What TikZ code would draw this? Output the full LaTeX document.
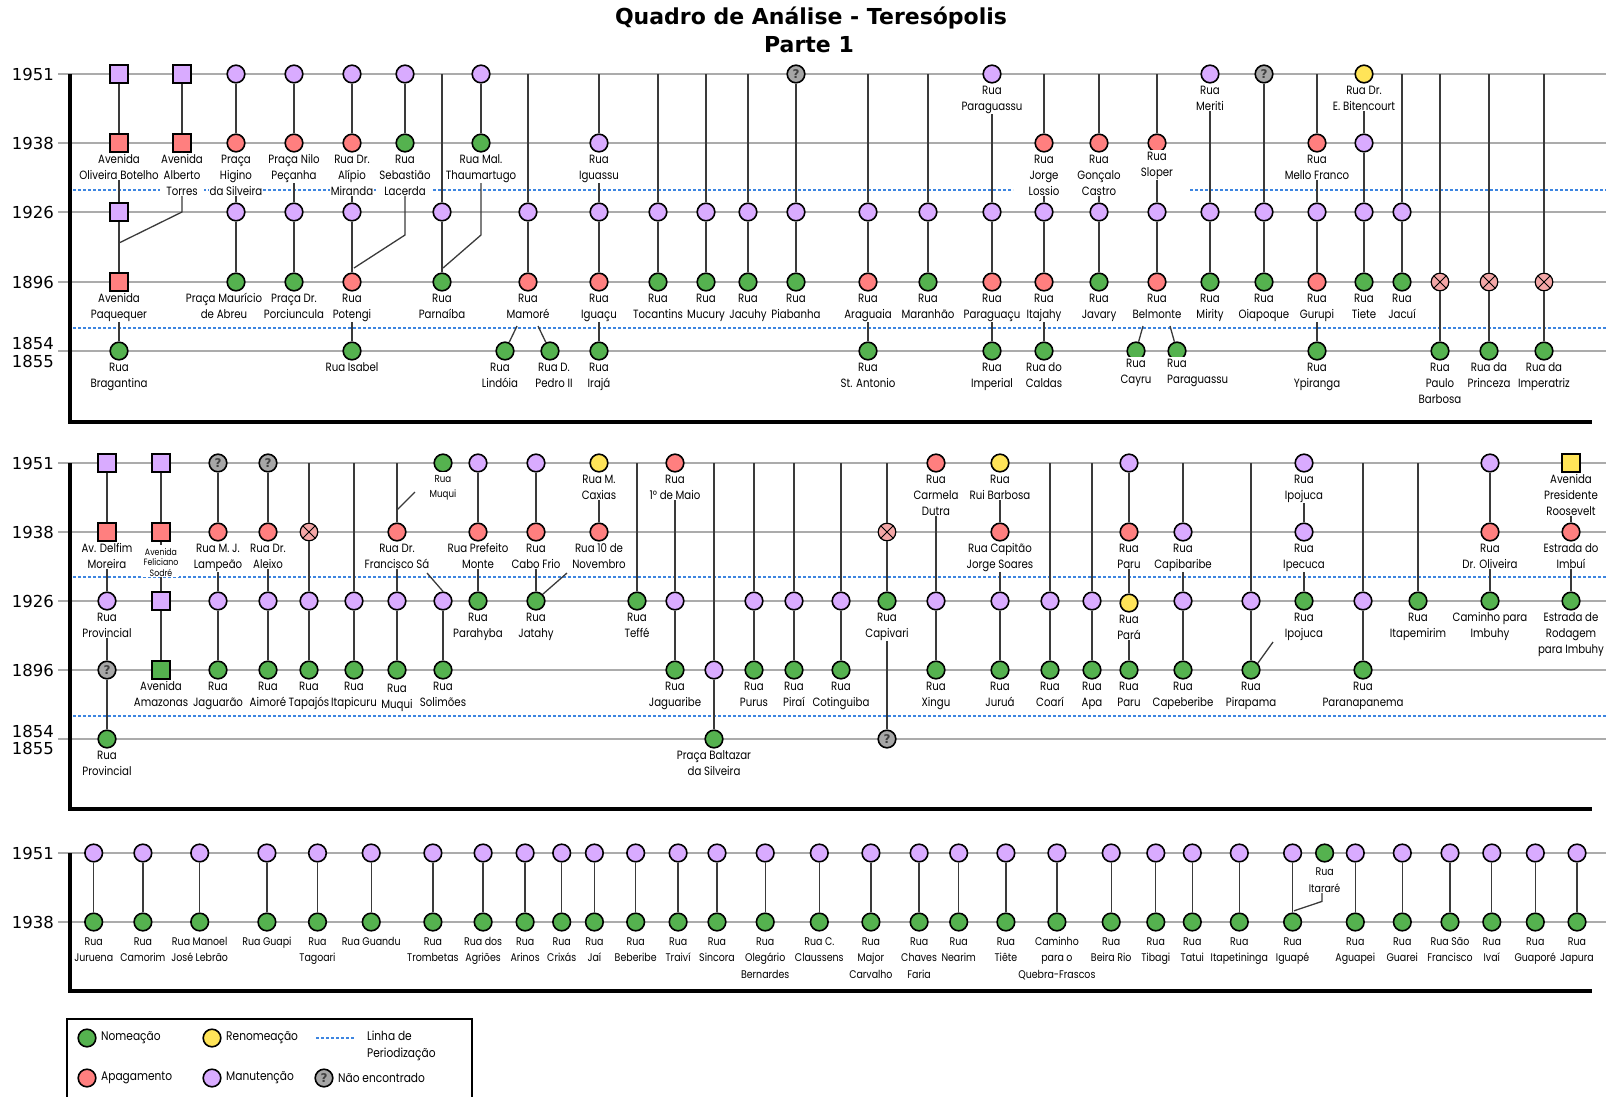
\documentclass[tikz,border=0pt]{standalone}
\usepackage{fontspec}
\newfontfamily\labf[FakeStretch=0.85]{Poppins}
\newfontfamily\yrf{DejaVu Sans}
\pgfdeclarelayer{front}
\pgfsetlayers{main,front}

\definecolor{cpur}{HTML}{D9ABFF}
\definecolor{cred}{HTML}{FF7F7F}
\definecolor{cgrn}{HTML}{55B24F}
\definecolor{cyel}{HTML}{FFE458}
\definecolor{cgry}{HTML}{A6A6A6}
\definecolor{cxpk}{HTML}{F4A6A6}
\definecolor{cdash}{HTML}{3D85E0}
\definecolor{cyear}{HTML}{ABABAB}
\definecolor{cconn}{HTML}{3A3A3A}

\tikzset{
  nbase/.style={draw=black, line width=1.6pt, inner sep=0pt, minimum size=17.6pt},
  circ/.style={nbase, circle},
  sqr/.style={nbase, rectangle},
  nP/.style={circ, fill=cpur},
  nR/.style={circ, fill=cred},
  nG/.style={circ, fill=cgrn},
  nY/.style={circ, fill=cyel},
  nQ/.style={circ, fill=cgry, label={[qmark]center:?}},
  nX/.style={circ, fill=cxpk, line width=1.2pt,
    path picture={\draw[line width=1pt]
      (path picture bounding box.north west) -- (path picture bounding box.south east)
      (path picture bounding box.north east) -- (path picture bounding box.south west);}},
  sP/.style={sqr, fill=cpur},
  sR/.style={sqr, fill=cred},
  sG/.style={sqr, fill=cgrn},
  sY/.style={sqr, fill=cyel},
  qmark/.style={font=\yrf\bfseries\fontsize{12}{12}\selectfont, text=black!75, inner sep=0pt},
  conn/.style={draw=cconn, line width=1.3pt},
  yline/.style={draw=cyear, line width=1.5pt},
  dline/.style={draw=cdash, line width=1.1pt, dash pattern=on 3pt off 2pt},
  axisln/.style={draw=black, line width=3.6pt},
  lbl/.style={anchor=north, fill=white, inner xsep=1pt, inner ysep=0.5pt, align=center,
    font=\labf\fontsize{12}{16}\selectfont},
  lbl3/.style={lbl, font=\labf\fontsize{11.1}{16.5}\selectfont},
  lbls/.style={lbl, font=\labf\fontsize{9.2}{10.5}\selectfont},
  lblm/.style={lbl, font=\labf\fontsize{10.2}{15}\selectfont},
  yr/.style={anchor=east, inner sep=0pt, font=\yrf\fontsize{16.5}{16.5}\selectfont},
  ttl/.style={inner sep=0pt, font=\yrf\bfseries\fontsize{22}{22}\selectfont},
  legt/.style={anchor=west, inner sep=0pt, font=\labf\fontsize{12.5}{16.8}\selectfont},
}

% strut that fixes the height of a label's first line
\newcommand\st{\rule{0pt}{10pt}}
% a marker: style, name, x, y
\newcommand\mk[4]{\node[#1] (#2) at (#3,#4) {};}
% a street label under a marker: [style] name, xshift, yshift, text
\newcommand\lb[5][lbl]{\begin{pgfonlayer}{front}\node[#1] (#2-l) at ([xshift=#3pt,yshift=#4pt]#2.center) {\st #5};\end{pgfonlayer}}
% marker with its label: [xshift] style, name, x, y, text
\newcommand\mkl[6][0]{\mk{#2}{#3}{#4}{#5}\lb{#3}{#1}{-9.5}{#6}}
% connector between two named points
\newcommand\sg[2]{\draw[conn] (#1) -- (#2);}

\begin{document}
\begin{tikzpicture}[x=1pt,y=-1pt]
\useasboundingbox (0,0) rectangle (1606,1096);

% ---------- title ----------
\node[ttl] (title1) at (811,18) {Quadro de Análise - Teresópolis};
\node[ttl] (title2) at (809,45) {Parte 1};

% ---------- grid: year lines, period lines, axes ----------
\foreach \y in {74,143,212,282,351,463,532,601,670,739,853,922}
  \draw[yline] (58,\y) -- (1606,\y);
\draw[dline] (73,190) -- (1013,190);
\draw[dline] (1190,190) -- (1606,190);
\draw[dline] (73,328) -- (1606,328);
\draw[dline] (73,577) -- (1606,577);
\draw[dline] (73,716) -- (1606,716);
\draw[axisln] (70,74) -- (70,422) -- (1592,422);
\draw[axisln] (70,463) -- (70,809) -- (1592,809);
\draw[axisln] (70,853) -- (70,991) -- (1592,991);

% year labels
\node[yr] (ya1) at (54,74) {1951};
\node[yr] (ya2) at (54,143) {1938};
\node[yr] (ya3) at (54,212) {1926};
\node[yr] (ya4) at (54,282) {1896};
\node[yr] (ya5) at (54,343.7) {1854};
\node[yr] (ya6) at (54,361) {1855};
\node[yr] (yb1) at (54,463) {1951};
\node[yr] (yb2) at (54,532) {1938};
\node[yr] (yb3) at (54,601) {1926};
\node[yr] (yb4) at (54,670) {1896};
\node[yr] (yb5) at (54,731.7) {1854};
\node[yr] (yb6) at (54,748.3) {1855};
\node[yr] (yc1) at (54,853) {1951};
\node[yr] (yc2) at (54,922) {1938};

% ================= PART 1, first block =================
\mk{sP}{c1a}{119}{74}
\mkl{sR}{c1b}{119}{143}{Avenida\\Oliveira Botelho}
\mk{sP}{c1c}{119}{212}
\mkl{sR}{c1d}{119}{282}{Avenida\\Paquequer}
\mkl{nG}{c1e}{119}{351}{Rua\\Bragantina}
\sg{c1a}{c1b}\sg{c1b}{c1c}\sg{c1c}{c1d}\sg{c1d}{c1e}

\mk{sP}{c2a}{182}{74}
\mkl{sR}{c2b}{182}{143}{Avenida\\Alberto\\Torres}
\coordinate (c2j) at (182,212);
\coordinate (c2k) at (119,243);
\sg{c2a}{c2b}
\draw[conn] (c2b) -- (c2j) -- (c2k);

\mk{nP}{c3a}{236}{74}
\mkl{nR}{c3b}{236}{143}{Praça\\Higino\\da Silveira}
\mk{nP}{c3c}{236}{212}
\mkl[-12]{nG}{c3d}{236}{282}{Praça Maurício\\de Abreu}
\sg{c3a}{c3b}\sg{c3b}{c3c}\sg{c3c}{c3d}

\mk{nP}{c4a}{294}{74}
\mkl{nR}{c4b}{294}{143}{Praça Nilo\\Peçanha}
\mk{nP}{c4c}{294}{212}
\mkl{nG}{c4d}{294}{282}{Praça Dr.\\Porciuncula}
\sg{c4a}{c4b}\sg{c4b}{c4c}\sg{c4c}{c4d}

\mk{nP}{c5a}{352}{74}
\mkl{nR}{c5b}{352}{143}{Rua Dr.\\Alípio\\Miranda}
\mk{nP}{c5c}{352}{212}
\mkl{nR}{c5d}{352}{282}{Rua\\Potengi}
\mkl{nG}{c5e}{352}{351}{Rua Isabel}
\sg{c5a}{c5b}\sg{c5b}{c5c}\sg{c5c}{c5d}\sg{c5d}{c5e}

\mk{nP}{c6a}{405}{74}
\mkl{nG}{c6b}{405}{143}{Rua\\Sebastião\\Lacerda}
\coordinate (c6j) at (405,235);
\coordinate (c6k) at (354,268);
\sg{c6a}{c6b}
\draw[conn] (c6b) -- (c6j) -- (c6k);

\coordinate (c7a) at (442,74);
\mk{nP}{c7c}{442}{212}
\mkl{nG}{c7d}{442}{282}{Rua\\Parnaíba}
\sg{c7a}{c7c}\sg{c7c}{c7d}

\mk{nP}{c8a}{481}{74}
\mkl{nG}{c8b}{481}{143}{Rua Mal.\\Thaumartugo}
\coordinate (c8j) at (481,235);
\coordinate (c8k) at (443,268);
\sg{c8a}{c8b}
\draw[conn] (c8b) -- (c8j) -- (c8k);

\coordinate (c9a) at (528,74);
\mk{nP}{c9c}{528}{212}
\mkl{nR}{c9d}{528}{282}{Rua\\Mamoré}
\mkl[-5]{nG}{c9e}{505}{351}{Rua\\Lindóia}
\mkl[4]{nG}{c9f}{550}{351}{Rua D.\\Pedro II}
\coordinate (c9j) at (517,326);
\coordinate (c9k) at (538,326);
\sg{c9a}{c9c}\sg{c9c}{c9d}\sg{c9j}{c9e}\sg{c9k}{c9f}

\coordinate (c10a) at (599,74);
\mkl{nP}{c10b}{599}{143}{Rua\\Iguassu}
\mk{nP}{c10c}{599}{212}
\mkl{nR}{c10d}{599}{282}{Rua\\Iguaçu}
\mkl{nG}{c10e}{599}{351}{Rua\\Irajá}
\sg{c10a}{c10b}\sg{c10b}{c10c}\sg{c10c}{c10d}\sg{c10d}{c10e}

\coordinate (c11a) at (658,74);
\mk{nP}{c11c}{658}{212}
\mkl{nG}{c11d}{658}{282}{Rua\\Tocantins}
\sg{c11a}{c11c}\sg{c11c}{c11d}

\coordinate (c12a) at (706,74);
\mk{nP}{c12c}{706}{212}
\mkl{nG}{c12d}{706}{282}{Rua\\Mucury}
\sg{c12a}{c12c}\sg{c12c}{c12d}

\coordinate (c13a) at (748,74);
\mk{nP}{c13c}{748}{212}
\mkl{nG}{c13d}{748}{282}{Rua\\Jacuhy}
\sg{c13a}{c13c}\sg{c13c}{c13d}

\mk{nQ}{c14a}{796}{74}
\mk{nP}{c14c}{796}{212}
\mkl{nG}{c14d}{796}{282}{Rua\\Piabanha}
\sg{c14a}{c14c}\sg{c14c}{c14d}

\coordinate (c15a) at (868,74);
\mk{nP}{c15c}{868}{212}
\mkl{nR}{c15d}{868}{282}{Rua\\Araguaia}
\mkl{nG}{c15e}{868}{351}{Rua\\St. Antonio}
\sg{c15a}{c15c}\sg{c15c}{c15d}\sg{c15d}{c15e}

\coordinate (c16a) at (928,74);
\mk{nP}{c16c}{928}{212}
\mkl{nG}{c16d}{928}{282}{Rua\\Maranhão}
\sg{c16a}{c16c}\sg{c16c}{c16d}

\mkl{nP}{c17a}{992}{74}{Rua\\Paraguassu}
\mk{nP}{c17c}{992}{212}
\mkl{nR}{c17d}{992}{282}{Rua\\Paraguaçu}
\mkl{nG}{c17e}{992}{351}{Rua\\Imperial}
\sg{c17a}{c17c}\sg{c17c}{c17d}\sg{c17d}{c17e}

\coordinate (c18a) at (1044,74);
\mkl{nR}{c18b}{1044}{143}{Rua\\Jorge\\Lossio}
\mk{nP}{c18c}{1044}{212}
\mkl{nR}{c18d}{1044}{282}{Rua\\Itajahy}
\mkl{nG}{c18e}{1044}{351}{Rua do\\Caldas}
\sg{c18a}{c18b}\sg{c18b}{c18c}\sg{c18c}{c18d}\sg{c18d}{c18e}

\coordinate (c19a) at (1099,74);
\mkl{nR}{c19b}{1099}{143}{Rua\\Gonçalo\\Castro}
\mk{nP}{c19c}{1099}{212}
\mkl{nG}{c19d}{1099}{282}{Rua\\Javary}
\sg{c19a}{c19b}\sg{c19b}{c19c}\sg{c19c}{c19d}

\coordinate (c20a) at (1157,74);
\mk{nR}{c20b}{1157}{143}
\lb{c20b}{0}{-7}{Rua\\Sloper}
\mk{nP}{c20c}{1157}{212}
\mkl{nR}{c20d}{1157}{282}{Rua\\Belmonte}
\mk{nG}{c20e}{1136}{351}
\lb{c20e}{0}{-5.5}{Rua\\Cayru}
\mk{nG}{c20f}{1177}{351}
\begin{pgfonlayer}{front}
\node[lbl, anchor=north west, align=left] (c20f-l) at (1166,356.5) {\st Rua\\Paraguassu};
\end{pgfonlayer}
\coordinate (c20j) at (1143,326);
\coordinate (c20k) at (1170,326);
\sg{c20a}{c20b}\sg{c20b}{c20c}\sg{c20c}{c20d}\sg{c20j}{c20e}\sg{c20k}{c20f}

\mkl{nP}{c21a}{1210}{74}{Rua\\Meriti}
\mk{nP}{c21c}{1210}{212}
\mkl{nG}{c21d}{1210}{282}{Rua\\Mirity}
\sg{c21a}{c21c}\sg{c21c}{c21d}

\mk{nQ}{c22a}{1264}{74}
\mk{nP}{c22c}{1264}{212}
\mkl{nG}{c22d}{1264}{282}{Rua\\Oiapoque}
\sg{c22a}{c22c}\sg{c22c}{c22d}

\coordinate (c23a) at (1317,74);
\mkl{nR}{c23b}{1317}{143}{Rua\\Mello Franco}
\mk{nP}{c23c}{1317}{212}
\mkl{nR}{c23d}{1317}{282}{Rua\\Gurupi}
\mkl{nG}{c23e}{1317}{351}{Rua\\Ypiranga}
\sg{c23a}{c23b}\sg{c23b}{c23c}\sg{c23c}{c23d}\sg{c23d}{c23e}

\mkl{nY}{c24a}{1364}{74}{Rua Dr.\\E. Bitencourt}
\mk{nP}{c24b}{1364}{143}
\mk{nP}{c24c}{1364}{212}
\mkl{nG}{c24d}{1364}{282}{Rua\\Tiete}
\sg{c24a}{c24b}\sg{c24b}{c24c}\sg{c24c}{c24d}

\coordinate (c25a) at (1402,74);
\mk{nP}{c25c}{1402}{212}
\mkl{nG}{c25d}{1402}{282}{Rua\\Jacuí}
\sg{c25a}{c25c}\sg{c25c}{c25d}

\coordinate (c26a) at (1440,74);
\mk{nX}{c26d}{1440}{282}
\mkl{nG}{c26e}{1440}{351}{Rua\\Paulo\\Barbosa}
\sg{c26a}{c26d}\sg{c26d}{c26e}

\coordinate (c27a) at (1489,74);
\mk{nX}{c27d}{1489}{282}
\mkl{nG}{c27e}{1489}{351}{Rua da\\Princeza}
\sg{c27a}{c27d}\sg{c27d}{c27e}

\coordinate (c28a) at (1544,74);
\mk{nX}{c28d}{1544}{282}
\mkl{nG}{c28e}{1544}{351}{Rua da\\Imperatriz}
\sg{c28a}{c28d}\sg{c28d}{c28e}

% ================= second block =================
\mk{sP}{d1a}{107}{463}
\mkl{sR}{d1b}{107}{532}{Av. Delfim\\Moreira}
\mkl{nP}{d1c}{107}{601}{Rua\\Provincial}
\mk{nQ}{d1d}{107}{670}
\mkl{nG}{d1e}{107}{739}{Rua\\Provincial}
\sg{d1a}{d1b}\sg{d1b}{d1c}\sg{d1c}{d1d}\sg{d1d}{d1e}

\mk{sP}{d2a}{161}{463}
\mk{sR}{d2b}{161}{532}
\lb[lbls]{d2b}{0}{-12.6}{Avenida\\Feliciano\\Sodré}
\mk{sP}{d2c}{161}{601}
\mkl{sG}{d2d}{161}{670}{Avenida\\Amazonas}
\sg{d2a}{d2b}\sg{d2b}{d2c}\sg{d2c}{d2d}

\mk{nQ}{d3a}{218}{463}
\mkl{nR}{d3b}{218}{532}{Rua M. J.\\Lampeão}
\mk{nP}{d3c}{218}{601}
\mkl{nG}{d3d}{218}{670}{Rua\\Jaguarão}
\sg{d3a}{d3b}\sg{d3b}{d3c}\sg{d3c}{d3d}

\mk{nQ}{d4a}{268}{463}
\mkl{nR}{d4b}{268}{532}{Rua Dr.\\Aleixo}
\mk{nP}{d4c}{268}{601}
\mkl{nG}{d4d}{268}{670}{Rua\\Aimoré}
\sg{d4a}{d4b}\sg{d4b}{d4c}\sg{d4c}{d4d}

\coordinate (d5a) at (309,463);
\mk{nX}{d5b}{309}{532}
\mk{nP}{d5c}{309}{601}
\mkl{nG}{d5d}{309}{670}{Rua\\Tapajós}
\sg{d5a}{d5b}\sg{d5b}{d5c}\sg{d5c}{d5d}

\coordinate (d6a) at (354,463);
\mk{nP}{d6c}{354}{601}
\mkl{nG}{d6d}{354}{670}{Rua\\Itapicuru}
\sg{d6a}{d6c}\sg{d6c}{d6d}

\coordinate (d7a) at (397,463);
\mkl{nR}{d7b}{397}{532}{Rua Dr.\\Francisco Sá}
\mk{nP}{d7c}{397}{601}
\mk{nG}{d7d}{397}{670}
\lb{d7d}{0}{-11.5}{Rua\\Muqui}
\coordinate (d7j) at (397,510);
\coordinate (d7k) at (415,492);
\sg{d7a}{d7b}\sg{d7b}{d7c}\sg{d7c}{d7d}\sg{d7j}{d7k}

\mk{nG}{d8a}{443}{463}
\lb[lblm]{d8a}{0}{-9}{Rua\\Muqui}
\mk{nP}{d8c}{443}{601}
\mkl{nG}{d8d}{443}{670}{Rua\\Solimões}
\coordinate (d8j) at (427,573);
\draw[conn] (d8j) -- (d8c.north);
\sg{d8c}{d8d}

\mk{nP}{d9a}{478}{463}
\mkl{nR}{d9b}{478}{532}{Rua Prefeito\\Monte}
\mkl{nG}{d9c}{478}{601}{Rua\\Parahyba}
\sg{d9a}{d9b}\sg{d9b}{d9c}

\mk{nP}{d10a}{536}{463}
\mkl{nR}{d10b}{536}{532}{Rua\\Cabo Frio}
\mkl{nG}{d10c}{536}{601}{Rua\\Jatahy}
\sg{d10a}{d10b}\sg{d10b}{d10c}

\mkl{nY}{d11a}{599}{463}{Rua M.\\Caxias}
\mkl{nR}{d11b}{599}{532}{Rua 10 de\\Novembro}
\coordinate (d11j) at (567,573);
\sg{d11a}{d11b}
\draw[conn] (d11j) -- (d10c.north east);

\coordinate (d12a) at (637,463);
\mkl{nG}{d12c}{637}{601}{Rua\\Teffé}
\sg{d12a}{d12c}

\mkl{nR}{d13a}{675}{463}{Rua\\1° de Maio}
\mk{nP}{d13c}{675}{601}
\mkl{nG}{d13d}{675}{670}{Rua\\Jaguaribe}
\sg{d13a}{d13c}\sg{d13c}{d13d}

\coordinate (d14a) at (714,463);
\mk{nP}{d14d}{714}{670}
\mkl{nG}{d14e}{714}{739}{Praça Baltazar\\da Silveira}
\sg{d14a}{d14d}\sg{d14d}{d14e}

\coordinate (d15a) at (754,463);
\mk{nP}{d15c}{754}{601}
\mkl{nG}{d15d}{754}{670}{Rua\\Purus}
\sg{d15a}{d15c}\sg{d15c}{d15d}

\coordinate (d16a) at (794,463);
\mk{nP}{d16c}{794}{601}
\mkl{nG}{d16d}{794}{670}{Rua\\Piraí}
\sg{d16a}{d16c}\sg{d16c}{d16d}

\coordinate (d17a) at (841,463);
\mk{nP}{d17c}{841}{601}
\mkl{nG}{d17d}{841}{670}{Rua\\Cotinguiba}
\sg{d17a}{d17c}\sg{d17c}{d17d}

\coordinate (d18a) at (887,463);
\mk{nX}{d18b}{887}{532}
\mkl{nG}{d18c}{887}{601}{Rua\\Capivari}
\mk{nQ}{d18e}{887}{739}
\sg{d18a}{d18b}\sg{d18b}{d18c}\sg{d18c}{d18e}

\mkl{nR}{d19a}{936}{463}{Rua\\Carmela\\Dutra}
\mk{nP}{d19c}{936}{601}
\mkl{nG}{d19d}{936}{670}{Rua\\Xingu}
\sg{d19a}{d19c}\sg{d19c}{d19d}

\mkl{nY}{d20a}{1000}{463}{Rua\\Rui Barbosa}
\mkl{nR}{d20b}{1000}{532}{Rua Capitão\\Jorge Soares}
\mk{nP}{d20c}{1000}{601}
\mkl{nG}{d20d}{1000}{670}{Rua\\Juruá}
\sg{d20a}{d20b}\sg{d20b}{d20c}\sg{d20c}{d20d}

\coordinate (d21a) at (1050,463);
\mk{nP}{d21c}{1050}{601}
\mkl{nG}{d21d}{1050}{670}{Rua\\Coarí}
\sg{d21a}{d21c}\sg{d21c}{d21d}

\coordinate (d22a) at (1092,463);
\mk{nP}{d22c}{1092}{601}
\mkl{nG}{d22d}{1092}{670}{Rua\\Apa}
\sg{d22a}{d22c}\sg{d22c}{d22d}

\mk{nP}{d23a}{1129}{463}
\mkl{nR}{d23b}{1129}{532}{Rua\\Paru}
\mkl{nY}{d23c}{1129}{603}{Rua\\Pará}
\mkl{nG}{d23d}{1129}{670}{Rua\\Paru}
\sg{d23a}{d23b}\sg{d23b}{d23c}\sg{d23c}{d23d}

\coordinate (d24a) at (1183,463);
\mkl{nP}{d24b}{1183}{532}{Rua\\Capibaribe}
\mk{nP}{d24c}{1183}{601}
\mkl{nG}{d24d}{1183}{670}{Rua\\Capeberibe}
\sg{d24a}{d24b}\sg{d24b}{d24c}\sg{d24c}{d24d}

\coordinate (d25a) at (1251,463);
\mk{nP}{d25c}{1251}{601}
\mkl{nG}{d25d}{1251}{670}{Rua\\Pirapama}
\coordinate (d25j) at (1273,642);
\sg{d25a}{d25c}\sg{d25c}{d25d}
\draw[conn] (d25d.north east) -- (d25j);

\mkl{nP}{d26a}{1304}{463}{Rua\\Ipojuca}
\mkl{nP}{d26b}{1304}{532}{Rua\\Ipecuca}
\mkl{nG}{d26c}{1304}{601}{Rua\\Ipojuca}
\sg{d26a}{d26b}\sg{d26b}{d26c}

\coordinate (d27a) at (1363,463);
\mk{nP}{d27c}{1363}{601}
\mkl{nG}{d27d}{1363}{670}{Rua\\Paranapanema}
\sg{d27a}{d27c}\sg{d27c}{d27d}

\coordinate (d28a) at (1418,463);
\mkl{nG}{d28c}{1418}{601}{Rua\\Itapemirim}
\sg{d28a}{d28c}

\mk{nP}{d29a}{1490}{463}
\mkl{nR}{d29b}{1490}{532}{Rua\\Dr. Oliveira}
\mkl{nG}{d29c}{1490}{601}{Caminho para\\Imbuhy}
\sg{d29a}{d29b}\sg{d29b}{d29c}

\mkl{sY}{d30a}{1571}{463}{Avenida\\Presidente\\Roosevelt}
\mkl{nR}{d30b}{1571}{532}{Estrada do\\Imbuí}
\mkl{nG}{d30c}{1571}{601}{Estrada de\\Rodagem\\para Imbuhy}
\sg{d30a}{d30b}\sg{d30b}{d30c}

% ================= third block =================
\foreach \x/\n/\t in {
  93.7/e1/{Rua\\Juruena}, 142.9/e2/{Rua\\Camorim}, 199.7/e3/{Rua Manoel\\José Lebrão},
  266.9/e4/{Rua Guapi}, 317.5/e5/{Rua\\Tagoari}, 371.2/e6/{Rua Guandu},
  432.9/e7/{Rua\\Trombetas}, 483.1/e8/{Rua dos\\Agriões}, 525.1/e9/{Rua\\Arinos},
  561.7/e10/{Rua\\Crixás}, 594.4/e11/{Rua\\Jaí}, 635.7/e12/{Rua\\Beberibe},
  678.1/e13/{Rua\\Traiví}, 717/e14/{Rua\\Sincora}, 765.2/e15/{Rua\\Olegário\\Bernardes},
  819.3/e16/{Rua C.\\Claussens}, 870.9/e17/{Rua\\Major\\Carvalho}, 919.1/e18/{Rua\\Chaves\\Faria},
  958.7/e19/{Rua\\Nearim}, 1005.9/e20/{Rua\\Tiête}, 1056.9/e21/{Caminho\\para o\\Quebra-Frascos},
  1111.2/e22/{Rua\\Beira Rio}, 1155.8/e23/{Rua\\Tibagi}, 1192.3/e24/{Rua\\Tatui},
  1239.3/e25/{Rua\\Itapetininga}, 1292.6/e26/{Rua\\Iguapé}, 1355.3/e27/{Rua\\Aguapei},
  1402.3/e28/{Rua\\Guarei}, 1450/e29/{Rua São\\Francisco}, 1491.8/e30/{Rua\\Ivaí},
  1535.3/e31/{Rua\\Guaporé}, 1577/e32/{Rua\\Japura}} {
  \node[nP] (\n-a) at (\x,853) {};
  \node[nG] (\n-b) at (\x,922) {};
  \draw[conn] (\n-a) -- (\n-b);
  \begin{pgfonlayer}{front}
    \node[lbl3] (\n-l) at ([yshift=-12.5pt]\n-b.center) {\st \t};
  \end{pgfonlayer}
}
\mk{nG}{ita}{1324.6}{853}
\lb[lbl3]{ita}{0}{-12}{Rua\\Itararé}
\coordinate (itj) at (1322,893);
\coordinate (itk) at (1322,901.4);
\coordinate (itm) at (1294,910.8);
\draw[conn] (itj) -- (itk) -- (itm);

% ================= legend =================
\draw[line width=2.6pt] (67,1019) rectangle (472,1120);
\mk{nG}{lg1}{87}{1038}
\node[legt] (lg1t) at (101,1038) {Nomeação};
\mk{nY}{lg2}{212}{1038}
\node[legt] (lg2t) at (226,1038) {Renomeação};
\coordinate (lg3a) at (316,1038);
\coordinate (lg3b) at (355,1038);
\draw[dline] (lg3a) -- (lg3b);
\node[legt, anchor=north west, align=left] (lg3t) at (367,1031) {Linha de\\Periodização};
\mk{nR}{lg4}{87}{1078}
\node[legt] (lg4t) at (101,1078) {Apagamento};
\mk{nP}{lg5}{212}{1078}
\node[legt] (lg5t) at (226,1078) {Manutenção};
\mk{nQ}{lg6}{324}{1078}
\node[legt] (lg6t) at (338,1078) {Não encontrado};
\end{tikzpicture}
\end{document}
